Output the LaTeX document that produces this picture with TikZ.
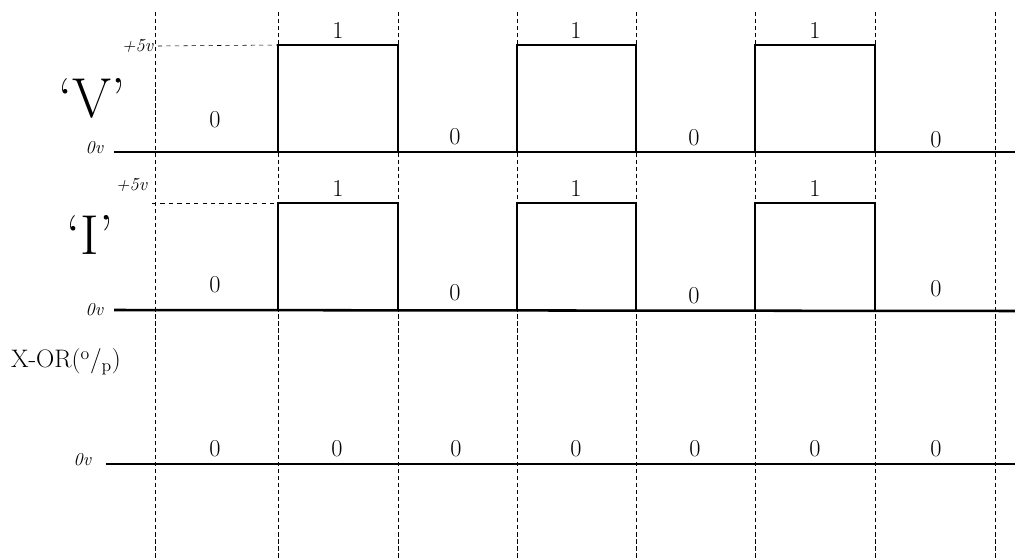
\documentclass[tikz,border=0pt]{standalone}
\begin{document}
\begin{tikzpicture}[x=0.025cm, y=-0.025cm,
          grid/.style={dashed, dash pattern=on 3pt off 2pt, line width=0.6pt},
          wave/.style={line width=1.2pt},
          base/.style={line width=1.8pt},
          lvl/.style={font=\LARGE},
          volt/.style={font=\fontsize{13}{15}\selectfont\itshape, anchor=east},
          tag/.style={font=\fontsize{40}{44}\selectfont}]
        \useasboundingbox (0,0) rectangle (1015,559);
        % time slots
        \foreach \x in {155,278,398,517,636,755,875,995}
          \draw[grid] (\x,12) -- (\x,559);
        % input V
        \node[tag] (tv) at (92,98) {`V'};
        \node[volt] (v5a) at (158,46) {+5v};
        \node[volt] (v0a) at (108,148) {0v};
        \draw[base] (v0a.east) ++(6,4) coordinate (sa) -- (1015,152);
        \draw[wave] (278,152) -- (278,45) coordinate (ta) -- (398,45) -- (398,152)
                    (517,152) -- (517,45) -- (636,45) -- (636,152)
                    (755,152) -- (755,45) -- (875,45) -- (875,152);
        \draw[dashed, thin] (v5a.east) -- (ta);
        \node[lvl] (a1) at (338,30) {1};
        \node[lvl] (a2) at (576,30) {1};
        \node[lvl] (a3) at (815,30) {1};
        \node[lvl] (a0) at (215,120) {0};
        \node[lvl] (a4) at (455,137) {0};
        \node[lvl] (a5) at (694,138) {0};
        \node[lvl] (a6) at (936,140) {0};
        % input I
        \node[tag] (ti) at (90,235) {`I'};
        \node[volt] (v5b) at (152,185) {+5v};
        \node[volt] (v0b) at (108,310) {0v};
        \draw[base] (v0b.east) ++(6,0) -- (1015,311);
        \draw[wave] (278,311) -- (278,203) coordinate (tb) -- (398,203) -- (398,311)
                    (517,311) -- (517,203) -- (636,203) -- (636,311)
                    (755,311) -- (755,203) -- (875,203) -- (875,311);
        \draw[dashed, thin] (v5b.east |- tb) -- (tb);
        \node[lvl] (b1) at (338,188) {1};
        \node[lvl] (b2) at (576,188) {1};
        \node[lvl] (b3) at (815,188) {1};
        \node[lvl] (b0) at (215,285) {0};
        \node[lvl] (b4) at (455,293) {0};
        \node[lvl] (b5) at (694,296) {0};
        \node[lvl] (b6) at (936,289) {0};
        % output
        \node[font=\fontsize{18}{22}\selectfont] (to) at (66,362) {X-OR(\textsuperscript{o}/\textsubscript{p})};
        \node[volt] (v0c) at (96,460) {0v};
        \draw[base] (v0c.east) ++(10,4) -- (1015,464);
        \node[lvl] (c0) at (215,449) {0};
        \node[lvl] (c1) at (337,449) {0};
        \node[lvl] (c2) at (456,449) {0};
        \node[lvl] (c3) at (576,449) {0};
        \node[lvl] (c4) at (695,449) {0};
        \node[lvl] (c5) at (815,449) {0};
        \node[lvl] (c6) at (936,449) {0};
      \end{tikzpicture}
\end{document}
